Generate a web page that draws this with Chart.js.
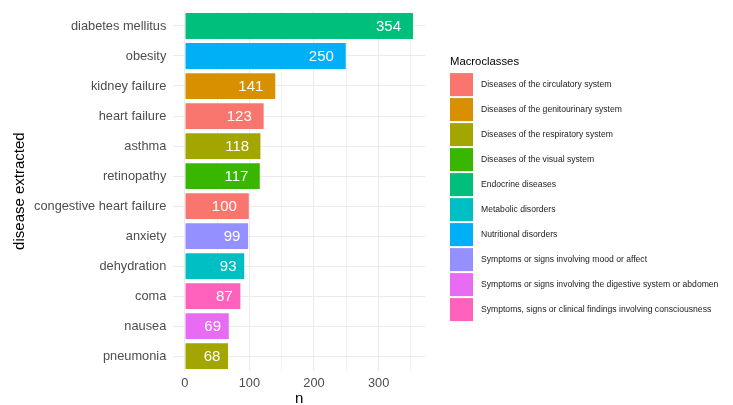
<!DOCTYPE html>
<html>
<head>
<meta charset="utf-8">
<script src="https://cdn.jsdelivr.net/npm/chart.js@4"></script>
<style>
  html, body { margin: 0; padding: 0; background: #fff; }
  #wrap { width: 733px; height: 405px; }
</style>
</head>
<body>
<div id="wrap"><canvas id="diseaseChart" width="733" height="405"></canvas></div>
<script>
// data
const diseases = ['diabetes mellitus', 'obesity', 'kidney failure', 'heart failure', 'asthma', 'retinopathy',
    'congestive heart failure', 'anxiety', 'dehydration', 'coma', 'nausea', 'pneumonia'];
const counts = [354, 250, 141, 123, 118, 117, 100, 99, 93, 87, 69, 68];
const diseaseClass = [
    'Endocrine diseases',
    'Nutritional disorders',
    'Diseases of the genitourinary system',
    'Diseases of the circulatory system',
    'Diseases of the respiratory system',
    'Diseases of the visual system',
    'Diseases of the circulatory system',
    'Symptoms or signs involving mood or affect',
    'Metabolic disorders',
    'Symptoms, signs or clinical findings involving consciousness',
    'Symptoms or signs involving the digestive system or abdomen',
    'Diseases of the respiratory system'
];
const macroclasses = [
    'Diseases of the circulatory system',
    'Diseases of the genitourinary system',
    'Diseases of the respiratory system',
    'Diseases of the visual system',
    'Endocrine diseases',
    'Metabolic disorders',
    'Nutritional disorders',
    'Symptoms or signs involving mood or affect',
    'Symptoms or signs involving the digestive system or abdomen',
    'Symptoms, signs or clinical findings involving consciousness'
];
const classColors = ['#F8766D', '#D89000', '#A3A500', '#39B600', '#00BF7D',
    '#00BFC4', '#00B0F6', '#9590FF', '#E76BF3', '#FF62BC'];
const xTicks = [0, 50, 100, 150, 200, 250, 300, 350];

const barColors = diseaseClass.map(c => classColors[macroclasses.indexOf(c)]);
const FONT = 'Arial, "Liberation Sans", sans-serif';

// white count labels inside the bar ends
const barLabels = {
    id: 'barLabels',
    afterDatasetsDraw(chart) {
        const ctx = chart.ctx;
        const meta = chart.getDatasetMeta(0);
        ctx.save();
        ctx.font = '15px ' + FONT;
        ctx.fillStyle = '#ffffff';
        ctx.textAlign = 'right';
        ctx.textBaseline = 'middle';
        meta.data.forEach((bar, i) => {
            const txt = String(counts[i]);
            const w = ctx.measureText(txt).width;
            ctx.fillText(txt, bar.x - w * 0.5, bar.y + 1);
        });
        ctx.restore();
    }
};

// ggplot-style legend to the right of the panel (Chart.js legend can't keep the gap)
const classLegend = {
    id: 'classLegend',
    afterDraw(chart) {
        const ctx = chart.ctx;
        const area = chart.chartArea;
        const key = 23, step = 25;
        const x0 = area.right + 25;
        const top = (area.top + area.bottom) / 2 - (17 + step * macroclasses.length) / 2 - 1.5;
        ctx.save();
        ctx.textAlign = 'left';
        ctx.textBaseline = 'middle';
        ctx.fillStyle = '#000';
        ctx.font = '11.3px ' + FONT;
        ctx.fillText('Macroclasses', x0, top + 6);
        ctx.font = '8.6px ' + FONT;
        macroclasses.forEach((m, i) => {
            const y = top + 17 + i * step;
            ctx.fillStyle = classColors[i];
            ctx.fillRect(x0, y, key, key);
            ctx.fillStyle = '#1A1A1A';
            ctx.fillText(m, x0 + key + 8, y + key / 2);
        });
        ctx.restore();
    }
};

const noPad = (s) => { s.paddingTop = 0; s.paddingBottom = 0; s.paddingLeft = 0; s.paddingRight = 0; };

const ctx = document.getElementById('diseaseChart').getContext('2d');
const diseaseChart = new Chart(ctx, {
    type: 'bar',
    data: {
        labels: diseases,
        datasets: [{
            data: counts,
            backgroundColor: barColors,
            borderColor: 'rgba(255,255,255,0.5)',
            borderWidth: 0.6,
            barPercentage: 0.9,
            categoryPercentage: 1.0
        }]
    },
    options: {
        indexAxis: 'y',
        responsive: false,
        animation: false,
        layout: { padding: { left: 12, right: 308, top: 11, bottom: -1 } },
        scales: {
            x: {
                min: -17.7,
                max: 371.7,
                afterBuildTicks: (axis) => { axis.ticks = xTicks.map(v => ({ value: v })); },
                afterFit: noPad,
                border: { display: false },
                grid: {
                    drawTicks: false,
                    color: '#EBEBEB',
                    lineWidth: (c) => (c.tick && c.tick.value % 100 === 0) ? 1.1 : 0.6
                },
                ticks: {
                    padding: 6,
                    color: '#4D4D4D',
                    font: { family: FONT, size: 12.8, lineHeight: 1 },
                    callback: (v) => (v % 100 === 0 ? v : '')
                },
                title: {
                    display: true,
                    text: 'n',
                    color: '#000',
                    padding: { top: -5, bottom: 0 },
                    font: { family: FONT, size: 15, lineHeight: 1 }
                }
            },
            y: {
                afterFit: noPad,
                border: { display: false },
                grid: {
                    drawTicks: false,
                    offset: false,
                    color: '#EBEBEB',
                    lineWidth: 1.1
                },
                ticks: {
                    padding: 7,
                    color: '#4D4D4D',
                    font: { family: FONT, size: 12.8 }
                },
                title: {
                    display: true,
                    text: 'disease extracted',
                    color: '#000',
                    padding: { top: 0, bottom: 0 },
                    font: { family: FONT, size: 15, lineHeight: 1 }
                }
            }
        },
        plugins: {
            tooltip: { enabled: false },
            legend: { display: false }
        }
    },
    plugins: [barLabels, classLegend]
});
</script>
</body>
</html>
